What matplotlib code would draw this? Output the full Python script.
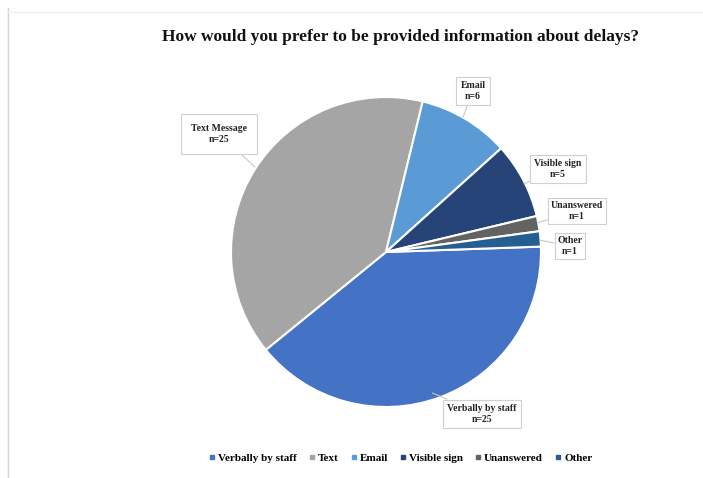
import numpy as np
import matplotlib.pyplot as plt
from matplotlib.lines import Line2D

# ===== data =====
categories = ['Verbally by staff', 'Text', 'Email', 'Visible sign', 'Unanswered', 'Other']
counts = [25, 25, 6, 5, 1, 1]
callout_names = ['Verbally by staff', 'Text Message', 'Email', 'Visible sign', 'Unanswered', 'Other']
colors = ['#4472C4', '#A5A5A5', '#5B9BD5', '#264478', '#636363', '#255E91']

W, H = 703, 478
fig = plt.figure(figsize=(W / 100, H / 100), dpi=100)
fig.patch.set_facecolor('white')

serif = ['Liberation Serif', 'DejaVu Serif']

# faint frame of the original screenshot
fig.add_artist(Line2D([8 / W, 8 / W], [0, 1 - 8 / H], color='#d4d4d4', lw=1))
fig.add_artist(Line2D([8 / W, 1], [1 - 12 / H, 1 - 12 / H], color='#f0f0f0', lw=1))

# pie axes: centre (386,252) px, radius 155 px
cx, cy, r = 386, 252, 155
ax = fig.add_axes([(cx - r) / W, 1 - (cy + r) / H, 2 * r / W, 2 * r / H])
wedges, _ = ax.pie(counts, colors=colors, startangle=2, counterclock=False,
                   wedgeprops=dict(edgecolor='white', linewidth=1.5))
ax.set_xlim(-1, 1)
ax.set_ylim(-1, 1)
ax.set_aspect('equal')
ax.axis('off')

fig.text(400 / W, 1 - 37 / H, 'How would you prefer to be provided information about delays?',
         ha='center', va='center', fontsize=12.5, fontweight='bold', family=serif, color='#111111')

# callout box centres (figure px from top-left) and pointer tips (pie units)
box_pos = [(482, 414), (219, 134), (473, 91), (558, 169), (577, 211), (570, 246)]
tip_pos = [(0.30, -0.91), (-0.845, 0.548), (0.497, 0.871), (0.89, 0.44), (0.98, 0.19), (0.99, 0.077)]
box_pad = [0.45, 1.0, 0.45, 0.45, 0.3, 0.3]

for i in range(len(categories)):
    bx, by = box_pos[i]
    ax.annotate(f'{callout_names[i]}\nn={counts[i]}', xy=tip_pos[i], xycoords='data',
                xytext=(bx, H - by), textcoords='figure pixels',
                ha='center', va='center', fontsize=7, fontweight='bold', family=serif,
                color='#222222', linespacing=1.3, annotation_clip=False,
                bbox=dict(boxstyle=f'square,pad={box_pad[i]}', fc='white', ec='#d0d0d0', lw=0.8),
                arrowprops=dict(arrowstyle='-', color='#c8c8c8', lw=0.8, shrinkA=0, shrinkB=0))

handles = [plt.Line2D([], [], marker='s', ls='', color=c, markersize=3.5) for c in colors]
fig.legend(handles, categories, loc='center', bbox_to_anchor=(400 / W, 1 - 458 / H),
           ncol=6, frameon=False, handletextpad=0.1, columnspacing=1.0, handlelength=0.8,
           prop=dict(family=serif, weight='bold', size=8))

fig.savefig('out.png', dpi=100)
